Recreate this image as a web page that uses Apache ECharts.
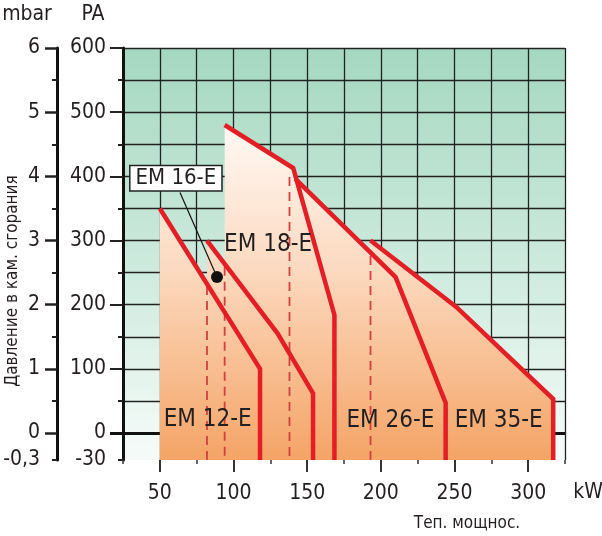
<!DOCTYPE html>
<html><head><meta charset="utf-8">
<script src="https://cdn.jsdelivr.net/npm/echarts@6/dist/echarts.min.js"></script>
<style>html,body{margin:0;padding:0;background:#fff}#c{width:602px;height:536px}</style>
</head><body><div id="c"></div>
<script>
const FONT = "'Liberation Sans Narrow','DejaVu Sans Condensed','Roboto Condensed',sans-serif";
const TXT = '#231f20';
const RED = '#e31e24';

// ---- axes ----
const xMin = 25, xMax = 325;
const paMin = -42, paMax = 600;          // lowest mark of the chart is labelled -30 Pa / -0,3 mbar
const xTickLabels = [50, 100, 150, 200, 250, 300];
const paGridLines = [0, 50, 100, 150, 200, 250, 300, 350, 400, 450, 500, 550, 600];
const paTickLabels = [0, 100, 200, 300, 400, 500, 600];
const mbarTickLabels = [0, 1, 2, 3, 4, 5, 6];
const mbarMinorTicks = [0.5, 1.5, 2.5, 3.5, 4.5, 5.5];
const bottomLabelPa = '-30', bottomLabelMbar = '-0,3';

// ---- burner working fields [kW, Pa] ----
const em12 = [[50, 350], [118, 100], [118, paMin]];
const em16 = [[82, 300], [130, 155], [154, 62], [154, paMin]];
const em18 = [[94, 480], [140.5, 413], [168.5, 184], [168.5, paMin]];
const em26 = [[142, 396], [210, 243], [244, 47], [244, paMin]];
const em35 = [[193, 300], [251, 197], [317, 53], [317, paMin]];
const burners = [em12, em16, em18, em26, em35];

// dashed start marks: [kW, Pa where the dashed line begins]
const startMarks = [[82, 229], [94, 259], [138, 399], [193, 276]];

// field labels
const fieldNames = ['EM 12-E', 'EM 18-E', 'EM 26-E', 'EM 35-E'];
const fieldAnchors = [[82.5, 20], [123.5, 293], [206.5, 19], [280, 19]];
const boxName = 'EM 16-E';
const boxAnchor = [60.9, 397];
const leader = [[63.7, 375], [88.8, 243]];

const chart = echarts.init(document.getElementById('c'), null, {renderer: 'canvas'});

const fillGrad = {type: 'linear', x: 0, y: 115, x2: 0, y2: 460, global: true,
  colorStops: [{offset: 0, color: '#fffbf8'}, {offset: 0.45, color: '#fcd9bf'}, {offset: 1, color: '#f4a466'}]};

const series = [];
burners.forEach(b => series.push({
  type: 'line', data: b, symbol: 'none', z: 2, silent: true,
  lineStyle: {width: 0}, areaStyle: {origin: 'start', color: fillGrad, opacity: 1}
}));
startMarks.forEach(m => series.push({
  type: 'line', data: [m, [m[0], paMin]], symbol: 'none', z: 3,
  lineStyle: {width: 1.8, color: '#d2403f', type: [9, 6]}
}));
burners.forEach(b => series.push({
  type: 'line', data: b, symbol: 'none', z: 4,
  lineStyle: {width: 4.5, color: RED, join: 'miter', cap: 'butt'}
}));
series.push({
  type: 'scatter', symbolSize: 0, z: 6, itemStyle: {opacity: 1},
  data: fieldNames.map((n, i) => ({name: n, value: fieldAnchors[i]})),
  label: {show: true, position: 'inside', formatter: p => p.name, color: TXT, fontSize: 24, fontFamily: FONT}
});
series.push({
  type: 'line', data: leader, symbol: 'none', z: 6, lineStyle: {width: 1.2, color: '#111'}
});
series.push({
  type: 'scatter', data: [leader[1]], symbolSize: 12, z: 7, itemStyle: {color: '#111', opacity: 1}
});
series.push({
  type: 'scatter', symbolSize: 0, z: 8, itemStyle: {opacity: 1},
  data: [{name: boxName, value: boxAnchor}],
  label: {show: true, position: 'inside', formatter: p => p.name, color: TXT, fontSize: 22, fontFamily: FONT,
    backgroundColor: '#fff', borderColor: '#222', borderWidth: 1.5, padding: [1, 5, 1, 5]}
});

const baseY = {type: 'value', min: paMin, max: paMax, position: 'left',
  axisLine: {show: false, onZero: false}, splitLine: {show: false}, axisLabel: {show: false}};
const baseX = {type: 'value', min: xMin, max: xMax, position: 'bottom',
  axisLine: {show: false, onZero: false}, splitLine: {show: false}, axisLabel: {show: false}};

chart.setOption({
  animation: false,
  backgroundColor: '#fff',
  grid: {left: 123, right: 37, top: 48, bottom: 76, show: true, borderWidth: 0,
    outerBoundsMode: 'none',
    backgroundColor: new echarts.graphic.LinearGradient(0, 0, 0, 1, [
      {offset: 0, color: '#a5d8c0'}, {offset: 0.5, color: '#cbe9dc'}, {offset: 1, color: '#f6fbf9'}])},
  xAxis: [
    Object.assign({}, baseX, {interval: 25,
      axisTick: {show: true, length: 4, lineStyle: {color: '#333', width: 1.5}},
      splitLine: {show: true, lineStyle: {color: '#222', width: 1.3}}}),
    Object.assign({}, baseX, {
      axisTick: {show: true, length: 12, customValues: xTickLabels, lineStyle: {color: '#333', width: 2}},
      axisLabel: {show: true, customValues: xTickLabels, margin: 23, color: TXT, fontSize: 21, fontFamily: FONT}})
  ],
  yAxis: [
    Object.assign({}, baseY, {
      axisLine: {show: true, onZero: false, lineStyle: {color: '#111', width: 3}},
      axisTick: {show: true, length: 5, customValues: paGridLines, lineStyle: {color: '#222', width: 2}},
      splitLine: {show: true, lineStyle: {color: '#222', width: 1.3}}}),
    Object.assign({}, baseY, {
      axisTick: {show: true, length: 13, customValues: paTickLabels, lineStyle: {color: '#222', width: 2}},
      axisLabel: {show: true, customValues: [paMin].concat(paTickLabels), margin: 17, color: TXT, fontSize: 21, fontFamily: FONT,
        formatter: v => v === paMin ? bottomLabelPa : String(v)}}),
    Object.assign({}, baseY, {
      axisTick: {show: true, length: 5, customValues: [paMin], lineStyle: {color: '#222', width: 2}}}),
    Object.assign({}, baseY, {
      axisTick: {show: true, length: 13, customValues: [0], lineStyle: {color: '#111', width: 3}},
      splitLine: {show: true, lineStyle: {color: '#111', width: 3}}}),
    Object.assign({}, baseY, {min: paMin / 100, max: paMax / 100, offset: 66,
      axisLine: {show: true, onZero: false, lineStyle: {color: '#111', width: 3}},
      axisTick: {show: true, length: 5, customValues: mbarMinorTicks.concat([paMin / 100]), lineStyle: {color: '#222', width: 2}}}),
    Object.assign({}, baseY, {min: paMin / 100, max: paMax / 100, offset: 66,
      axisTick: {show: true, length: 12, customValues: mbarTickLabels, lineStyle: {color: '#222', width: 2.5}},
      axisLabel: {show: true, customValues: [paMin / 100].concat(mbarTickLabels), margin: 17, color: TXT, fontSize: 21, fontFamily: FONT,
        formatter: v => v === paMin / 100 ? bottomLabelMbar : String(v)}})
  ],
  graphic: [
    {type: 'text', x: 27, y: 15, style: {text: 'mbar', fill: TXT, fontSize: 21, fontFamily: FONT, align: 'center', verticalAlign: 'middle'}},
    {type: 'text', x: 93, y: 15, style: {text: 'PA', fill: TXT, fontSize: 21, fontFamily: FONT, align: 'center', verticalAlign: 'middle'}},
    {type: 'text', x: 588, y: 493, style: {text: 'kW', fill: TXT, fontSize: 21, fontFamily: FONT, align: 'center', verticalAlign: 'middle'}},
    {type: 'text', x: 467, y: 524, style: {text: 'Теп. мощнос.', fill: TXT, fontSize: 17, fontFamily: FONT, align: 'center', verticalAlign: 'middle'}},
    {type: 'text', x: 13, y: 281, rotation: Math.PI / 2, style: {text: 'Давление в кам. сгорания', fill: TXT, fontSize: 17, fontFamily: FONT, align: 'center', verticalAlign: 'middle'}}
  ],
  series: series
});
</script></body></html>
